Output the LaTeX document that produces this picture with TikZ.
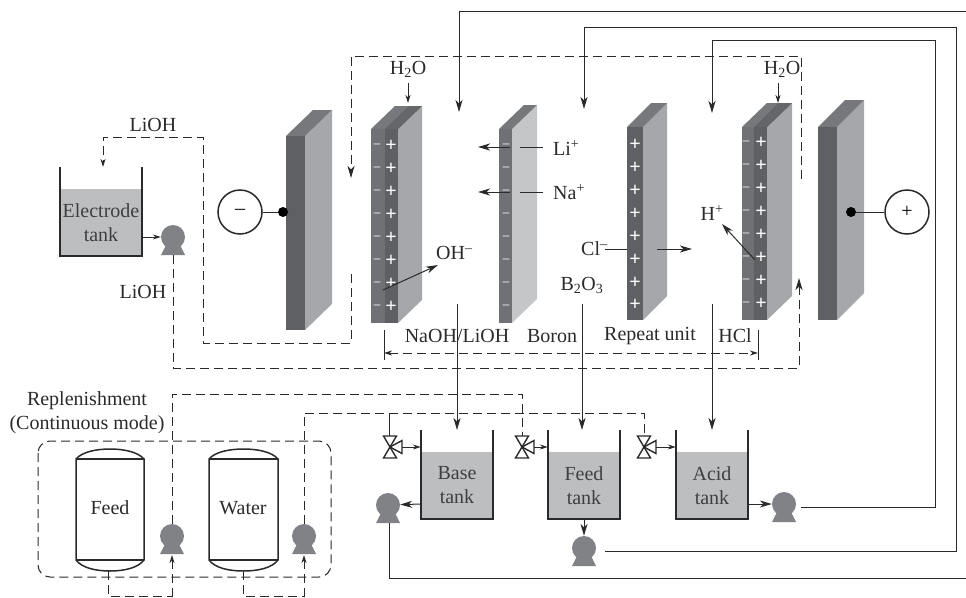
\documentclass[tikz,border=0pt]{standalone}
\usepackage{fontspec}
\setmainfont{Liberation Serif}
\usepackage{tikz}
\usetikzlibrary{calc}
\usetikzlibrary{arrows.meta}

\definecolor{ink}{HTML}{2B2A2B}
\definecolor{slabfront}{HTML}{5F6063}
\definecolor{slabmid}{HTML}{707174}
\definecolor{slabside}{HTML}{A5A7AA}
\definecolor{slabpale}{HTML}{C4C6C8}
\definecolor{slabtop}{HTML}{77787B}
\definecolor{liquid}{HTML}{BCBEC0}
\definecolor{pumpgray}{HTML}{808285}

\tikzset{
  pipe/.style={draw=ink,line width=1pt},
  thinpipe/.style={draw=ink,line width=0.9pt},
  dashpipe/.style={draw=ink,line width=1pt,dash pattern=on 9pt off 5pt},
  bigtip/.style={-{Stealth[length=12pt,width=7pt,inset=3.5pt]}},
  smalltip/.style={-{Stealth[length=8pt,width=5pt,inset=2.5pt]}},
  label/.style={inner sep=0pt,text=ink,font=\fontsize{20}{24}\selectfont,align=center},
  tankliquid/.style={fill=liquid,inner sep=0pt,label,text=ink!90},
  pumpbody/.style={circle,fill=pumpgray,inner sep=0pt,minimum size=24pt},
  plus/.style={inner sep=0pt,text=white,font=\fontsize{20}{20}\selectfont\bfseries},
  minus/.style={inner sep=0pt,text=white!90!black,font=\fontsize{13}{13}\selectfont\bfseries},
  terminal/.style={circle,draw=ink,line width=1.5pt,fill=white,inner sep=0pt,minimum size=44pt,font=\fontsize{20}{20}\selectfont},
  contact/.style={circle,fill=black,inner sep=0pt,minimum size=10pt},
}

% plate: x left, x right, y top, y bottom, depth x, depth y, side colour
\newcommand{\plate}[7]{
  \fill[#7] (#2,#3) -- ++(#5,-#6) -- (#2+#5,#4-#6) -- (#2,#4) -- cycle;
  \fill[slabtop] (#1,#3) -- ++(#5,-#6) -- (#2+#5,#3-#6) -- (#2,#3) -- cycle;
  \fill[slabfront] (#1,#3) rectangle (#2,#4);
}
% open walls of a tank around its liquid node
\newcommand{\tankwalls}[1]{
  \draw[ink,line width=1.7pt] ($(#1.north west)+(0,-22)$) -- (#1.south west) -- (#1.south east) -- ($(#1.north east)+(0,-22)$);
}
% foot of a pump
\newcommand{\pumpfoot}[1]{
  \fill[pumpgray] ($(#1.center)+(-6,6)$) -- ($(#1.center)+(-12,18)$) -- ($(#1.center)+(12,18)$) -- ($(#1.center)+(6,6)$) -- cycle;
}
% valve with body at x,y
\newcommand{\valve}[2]{
  \draw[ink,line width=1.4pt,fill=white] (#1-6.5,#2-11) -- (#1+6.5,#2-11) -- (#1-6.5,#2+11) -- (#1+6.5,#2+11) -- cycle;
  \draw[ink,line width=1.4pt,fill=white] (#1,#2) -- (#1+12,#2-6.5) -- (#1+12,#2+6.5) -- cycle;
}
% storage vessel
\newcommand{\vessel}[2]{
  \draw[ink,line width=1.5pt] (#1,459) -- (#1,560) .. controls (#1+6,568) and (#1+20,571) .. (#1+#2/2,571) .. controls (#1+#2-20,571) and (#1+#2-6,568) .. (#1+#2,560) -- (#1+#2,459) .. controls (#1+#2-6,452) and (#1+#2-20,449) .. (#1+#2/2,449) .. controls (#1+20,449) and (#1+6,452) .. (#1,459) -- cycle;
  \draw[ink,line width=1.5pt] (#1,459) -- (#1+#2,459);
  \draw[ink,line width=1.5pt] (#1,560) -- (#1+#2,560);
}

\begin{document}
\begin{tikzpicture}[x=1pt,y=-1pt]
            \useasboundingbox (0,0) rectangle (966,597);

            % Plates
            \plate{286}{305}{136}{330}{27}{26}{slabside}
            \plate{371}{398}{129}{323}{24}{23}{slabside}
            \fill[slabmid] (371,129) rectangle (385,323);
            \fill[slabtop!85!black] (385,129) -- ++(24,-23) -- (422,106) -- (398,129) -- cycle;
            \plate{499}{512}{129}{323}{25}{24}{slabpale}
            \fill[slabmid] (499,129) rectangle (512,323);
            \plate{627}{643}{127}{320}{24}{24}{slabside}
            \plate{742}{767}{127}{320}{25}{24}{slabside}
            \fill[slabmid] (742,127) rectangle (754,320);
            \fill[slabtop!85!black] (754,127) -- ++(24,-24) -- (792,103) -- (767,127) -- cycle;
            \plate{818}{837}{127}{320}{27}{27}{slabside}

            % Fixed charges
            \foreach \i in {0,...,7}{
              \node[minus] (mA\i) at (377,146+23*\i) {--};
              \node[plus] (pA\i) at (391,146+23*\i) {+};
              \node[minus] (mB\i) at (506,146+23*\i) {--};
              \node[plus] (pC\i) at (635,145+22.9*\i) {+};
              \node[minus] (mD\i) at (746,143+23*\i) {--};
              \node[plus] (pD\i) at (761,143+23*\i) {+};
            }

            % Electrodes
            \node[terminal] (Tminus) at (240,212) {--};
            \node[contact] (Cminus) at (283,212) {};
            \draw[thinpipe] (Tminus) -- (Cminus);
            \node[terminal] (Tplus) at (907,212) {+};
            \node[contact] (Cplus) at (851,212) {};
            \draw[thinpipe] (Tplus) -- (Cplus);

            % Tanks
            \node[tankliquid,minimum width=82,minimum height=67] (Telectrode) at (101,222.5) {Electrode\\tank};
            \tankwalls{Telectrode}
            \node[tankliquid,minimum width=72,minimum height=67] (Tbase) at (457,485.5) {Base\\tank};
            \tankwalls{Tbase}
            \node[tankliquid,minimum width=72,minimum height=67] (Tfeed) at (584,485.5) {Feed\\tank};
            \tankwalls{Tfeed}
            \node[tankliquid,minimum width=72,minimum height=67] (Tacid) at (712,485.5) {Acid\\tank};
            \tankwalls{Tacid}

            % Pumps
            \node[pumpbody] (Pelectrode) at (173,237) {};
            \node[pumpbody] (Pbase) at (388,505) {};
            \node[pumpbody] (Pfeed) at (584,548) {};
            \node[pumpbody] (Pacid) at (784,504) {};
            \node[pumpbody] (Pfresh) at (172,536) {};
            \node[pumpbody] (Pwater) at (304,536) {};
            \pumpfoot{Pelectrode}
            \pumpfoot{Pbase}
            \pumpfoot{Pfeed}
            \pumpfoot{Pacid}
            \pumpfoot{Pfresh}
            \pumpfoot{Pwater}

            % Vessels and box
            \vessel{76}{68}
            \vessel{209}{69}
            \node[label] (Lfresh) at (110,508) {Feed};
            \node[label] (Lwater) at (243,508) {Water};
            \draw[dashpipe,rounded corners=12pt] (38,441) rectangle (331,577);

            % Valves
            \valve{390}{447}
            \valve{522}{447}
            \valve{644}{447}

            % Free ends of the lines
            \coordinate (Adil) at (459,112);
            \coordinate (Afeed) at (584,109);
            \coordinate (Aacid) at (712,113);
            \coordinate (Sbase) at (457,304);
            \coordinate (Sfeed) at (582,304);
            \coordinate (Sacid) at (712,304);
            \coordinate (Racid) at (801,507);
            \coordinate (Rfeed) at (605,551);
            \coordinate (Vbase) at (402,447);
            \coordinate (Vfeed) at (534,447);
            \coordinate (Vacid) at (656,447);

            % Solid lines
            \draw[pipe,bigtip] (966,11) -- (459,11) -- (Adil);
            \draw[pipe,bigtip] (Rfeed) -- (956,551) -- (956,27) -- (584,27) -- (Afeed);
            \draw[pipe,bigtip] (Racid) -- (935,507) -- (935,40) -- (712,40) -- (Aacid);
            \draw[pipe] ($(Pbase.center)+(1,18)$) -- (389,578) -- (966,578);
            \draw[pipe,bigtip] (Sbase) -- (457,430);
            \draw[pipe,bigtip] (Sfeed) -- (582,430);
            \draw[pipe,bigtip] (Sacid) -- (712,430);
            \draw[pipe,bigtip] (421,504) -- (Pbase);
            \draw[pipe,bigtip] (584,519) -- (Pfeed);
            \draw[pipe,bigtip] (748,504) -- (Pacid);
            \draw[thinpipe,smalltip] (142,237) -- (Pelectrode);
            \draw[thinpipe,smalltip] (Vbase) -- (Tbase.west |- Vbase);
            \draw[thinpipe,smalltip] (Vfeed) -- (Tfeed.west |- Vfeed);
            \draw[thinpipe,smalltip] (Vacid) -- (Tacid.west |- Vacid);
            \draw[thinpipe] (389,413) -- (389,436);

            % Dashed lines
            \draw[dashpipe,bigtip] (801,179) -- (801,56) -- (351,56) -- (351,178);
            \draw[dashpipe,smalltip] (351,274) -- (351,343) -- (203,343) -- (203,137) -- (103,137) -- (103,167);
            \draw[dashpipe,bigtip] (173,255) -- (173,368) -- (799,368) -- (799,278);
            \draw[dashpipe] (Pfresh) -- (172,394) -- (522,394) -- (522,436);
            \draw[dashpipe] (Pwater) -- (304,413) -- (644,413) -- (644,436);
            \draw[dashpipe,smalltip] (172,597) -- (172,555);
            \draw[dashpipe,smalltip] (304,597) -- (304,555);
            \draw[dashpipe] (108,571) -- (108,596) -- (172,596);
            \draw[dashpipe] (243,571) -- (243,596) -- (304,596);

            % Repeat unit
            \draw[dashpipe,{Stealth[length=8pt,width=5pt,inset=2.5pt]}-{Stealth[length=8pt,width=5pt,inset=2.5pt]}] (384,353) -- (758,353);
            \draw[thinpipe] (384,330) -- (384,360);
            \draw[thinpipe] (758,330) -- (758,360);

            % Ion paths
            \draw[pipe,bigtip] (510,147) -- (478,147);
            \draw[pipe] (520,147) -- (543,147);
            \draw[pipe,bigtip] (510,192) -- (478,192);
            \draw[pipe] (520,192) -- (543,192);
            \draw[pipe,bigtip] (383,290) -- (438,265);
            \draw[pipe] (605,249) -- (627,249);
            \draw[pipe,bigtip] (657,249) -- (692,249);
            \draw[pipe,bigtip] (755,260) -- (722,224);
            \draw[pipe,smalltip] (408,83) -- (408,103);
            \draw[pipe,smalltip] (778,83) -- (778,103);

            % Labels
            \node[label] (Lwatera) at (408,69) {H\textsubscript{2}O};
            \node[label] (Lwaterb) at (782,69) {H\textsubscript{2}O};
            \node[label,anchor=west] (Lli) at (553,148) {Li\textsuperscript{+}};
            \node[label,anchor=west] (Lna) at (553,192) {Na\textsuperscript{+}};
            \node[label,anchor=west] (Loh) at (436,253) {OH\textsuperscript{--}};
            \node[label,anchor=west] (Lcl) at (581,249) {Cl\textsuperscript{--}};
            \node[label] (Lboron) at (582,285) {B\textsubscript{2}O\textsubscript{3}};
            \node[label] (Lh) at (712,213) {H\textsuperscript{+}};
            \node[label] (Llioha) at (153,125) {LiOH};
            \node[label] (Lliohb) at (143,292) {LiOH};
            \node[label] (Lnaoh) at (457,336) {NaOH/LiOH};
            \node[label] (Lb) at (552,336) {Boron};
            \node[label] (Lrepeat) at (650,336) {Repeat unit};
            \node[label] (Lhcl) at (735,336) {HCl};
            \node[label] (Lrepl) at (87,401) {Replenishment};
            \node[label] (Lcont) at (87,425) {(Continuous mode)};

        \end{tikzpicture}
\end{document}
